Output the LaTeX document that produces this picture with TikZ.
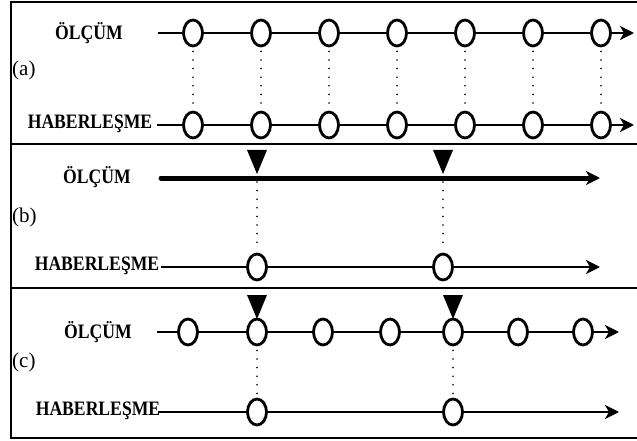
\documentclass[tikz,border=0pt]{standalone}
\usepackage{fontspec}
\setmainfont{Liberation Serif}
\usetikzlibrary{shapes.geometric,arrows.meta}

\newcommand{\narrow}[1]{\scalebox{0.86}[1]{#1}}

\begin{document}
\begin{tikzpicture}[x=1pt,y=-1pt,
  dot/.style={ellipse,draw,fill=white,line width=2.8pt,minimum width=19pt,minimum height=26pt,inner sep=0pt},
  lbl/.style={font=\bfseries\fontsize{20.5}{20.5}\selectfont,inner sep=0pt},
  tag/.style={font=\fontsize{21}{21}\selectfont,anchor=west,inner sep=1pt},
  axis/.style={line width=2.5pt,-{Stealth[length=14pt,width=14pt,inset=4pt]}},
  link/.style={line width=1.8pt,line cap=round,dash pattern=on 0pt off 8.6pt,shorten <=4pt,shorten >=4pt}]
\useasboundingbox (0,0) rectangle (637,441);
% frame
\draw[line width=2.8pt] (637,2) -- (11,2) -- (11,438) -- (637,438);
\draw[line width=2.8pt] (11,144) -- (637,144);
\draw[line width=2.8pt] (11,288) -- (637,288);

% (a)
\node[lbl] (ma) at (89,33) {\narrow{ÖLÇÜM}};
\node[lbl] (ha) at (90,124) {\narrow{HABERLEŞME}};
\node[tag] (ta) at (11,70) {(a)};
\coordinate (ma0) at (158,33);
\coordinate (ma8) at (634,33);
\coordinate (ha0) at (157,125);
\coordinate (ha8) at (634,125);
\foreach \i in {1,...,7} {
  \node[dot] (ma\i) at ({125+68*\i},33) {};
  \node[dot] (ha\i) at ({125+68*\i},125) {};
  \draw[link] (ma\i) -- (ha\i);
}
\draw[axis] (ma0) -- (ma1) -- (ma2) -- (ma3) -- (ma4) -- (ma5) -- (ma6) -- (ma7) -- (ma8);
\draw[axis] (ha0) -- (ha1) -- (ha2) -- (ha3) -- (ha4) -- (ha5) -- (ha6) -- (ha7) -- (ha8);

% (b)
\node[lbl] (mb) at (97,177) {\narrow{ÖLÇÜM}};
\node[lbl] (hb) at (97,266) {\narrow{HABERLEŞME}};
\node[tag] (tb) at (11,217) {(b)};
\coordinate (mb0) at (161,178);
\coordinate (mb1) at (257,178);
\coordinate (mb2) at (443,178);
\coordinate (mb3) at (600,178);
\coordinate (hb0) at (161,267);
\coordinate (hb3) at (600,267);
\node[dot] (hb1) at (257,267) {};
\node[dot] (hb2) at (443,267) {};
\draw[axis,line width=5pt,line cap=round] (mb0) -- (mb3);
\draw[axis] (hb0) -- (hb1) -- (hb2) -- (hb3);
\draw[link] (mb1) -- (hb1);
\draw[link] (mb2) -- (hb2);
\foreach \x in {257,443}
  \fill (\x-10,150) -- (\x+10,150) -- (\x,174) -- cycle;

% (c)
\node[lbl] (mc) at (98,332) {\narrow{ÖLÇÜM}};
\node[lbl] (hc) at (98,411) {\narrow{HABERLEŞME}};
\node[tag] (tc) at (11,362) {(c)};
\coordinate (mc0) at (157,332);
\coordinate (mc8) at (619,332);
\coordinate (hc0) at (158,412);
\coordinate (hc3) at (619,412);
\node[dot] (mc1) at (188,332) {};
\node[dot] (mc2) at (257,332) {};
\node[dot] (mc3) at (323,332) {};
\node[dot] (mc4) at (390,332) {};
\node[dot] (mc5) at (453,332) {};
\node[dot] (mc6) at (518,332) {};
\node[dot] (mc7) at (583,332) {};
\node[dot] (hc1) at (257,412) {};
\node[dot] (hc2) at (453,412) {};
\draw[axis] (mc0) -- (mc1) -- (mc2) -- (mc3) -- (mc4) -- (mc5) -- (mc6) -- (mc7) -- (mc8);
\draw[axis] (hc0) -- (hc1) -- (hc2) -- (hc3);
\draw[link] (mc2) -- (hc1);
\draw[link] (mc5) -- (hc2);
\foreach \x in {257,453}
  \fill (\x-10,295) -- (\x+10,295) -- (\x,319) -- cycle;
\end{tikzpicture}
\end{document}
